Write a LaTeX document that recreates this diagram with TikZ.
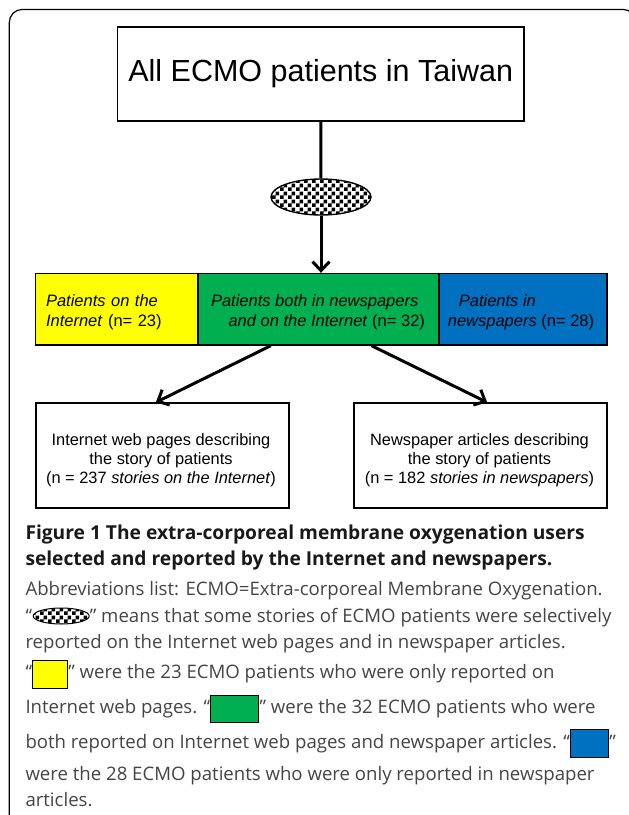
\documentclass[tikz,border=0pt]{standalone}
\usepackage{fontspec}
\setmainfont{Liberation Sans}
\newfontfamily\capfont{Open Sans}
\usetikzlibrary{arrows.meta,patterns,calc,shapes.geometric}
\definecolor{cyel}{HTML}{FFFF00}
\definecolor{cgrn}{HTML}{00B050}
\definecolor{cblu}{HTML}{0070C0}
\definecolor{captxt}{HTML}{444444}
\pgfdeclarepatternformonly{mychecker}{\pgfpointorigin}{\pgfqpoint{8pt}{8pt}}{\pgfqpoint{8pt}{8pt}}{%
  \pgfpathrectangle{\pgfpointorigin}{\pgfqpoint{4pt}{4pt}}%
  \pgfpathrectangle{\pgfqpoint{4pt}{4pt}}{\pgfqpoint{4pt}{4pt}}%
  \pgfusepath{fill}}
\begin{document}
\begin{tikzpicture}[x=1pt,y=-1pt,
  box/.style={draw, line width=1.4pt, inner sep=0pt},
  boxtext/.style={inner sep=0pt, align=center, font=\fontsize{16.4}{19.2}\selectfont},
  cell/.style={draw, line width=1.4pt, minimum height=71.5pt, inner sep=0pt},
  celltext/.style={inner sep=0pt, font=\fontsize{16.5}{19.5}\selectfont, align=left},
  flow/.style={line width=3pt, -{Straight Barb[length=9pt,width=17pt]}},
  captext/.style={anchor=base west, inner sep=0pt, font=\capfont\fontsize{18.6}{22}\selectfont, text=captxt},
  captextb/.style={anchor=base west, inner sep=0pt, font=\capfont\bfseries\fontsize{19.2}{22}\selectfont, text=black!90},
  swatch/.style={draw, line width=1pt, inner sep=0pt, anchor=west},
  checker/.style={ellipse, draw, pattern=mychecker, inner sep=0pt}
]
\useasboundingbox (0,0) rectangle (629,815);
\clip (0,0) rectangle (629,815);
\draw[line width=1.2pt, rounded corners=13pt] (9.3,830) -- (9.3,9.4) -- (636,9.4) -- (636,830);

\node[box, minimum width=406.5pt, minimum height=94pt, font=\fontsize{30.5}{36}\selectfont] (all) at (320.75,74) {All ECMO patients in Taiwan};
\node[checker, line width=1.4pt, minimum width=100pt, minimum height=36pt] (sel) at (321,197) {};

\node[cell, fill=cyel, minimum width=162.5pt] (yel) at (116.75,309.25) {};
\node[cell, fill=cgrn, minimum width=241pt] (grn) at (318.5,309.25) {};
\node[cell, fill=cblu, minimum width=168pt] (blu) at (523,309.25) {};
\node[celltext, text width=141.5pt] (yelt) at ($(yel.center)+(0,3)$)
  {\textit{Patients on the}\\\textit{Internet} (n= 23)};
\node[celltext] (grnt) at ($(grn.center)+(-0.5,3)$)
  {\textit{Patients both in newspapers}\\\hspace*{17.5pt}\textit{and on the Internet} (n= 32)};
\node[celltext] (blut) at ($(blu.center)+(-2,3)$)
  {\hspace*{11pt}\textit{Patients in}\\\textit{newspapers} (n= 28)};

\node[box, minimum width=253pt, minimum height=105pt] (web) at (162.5,455.5) {};
\node[box, minimum width=253pt, minimum height=105pt] (news) at (480.5,455.5) {};
\node[boxtext] (webt) at ($(web.center)+(-1.5,5)$)
  {Internet web pages describing\\the story of patients\\(n = 237 \textit{stories on the Internet})};
\node[boxtext] (newst) at ($(news.center)+(-1,5)$)
  {Newspaper articles describing\\the story of patients\\(n = 182 \textit{stories in newspapers})};

\draw[line width=3pt] (all) -- (sel);
\draw[flow] (sel.south) -- (sel.south |- grn.north);
\draw[flow] ($(grn.south west)!0.303!(grn.south east)$) -- ($(web.north west)!0.474!(web.north east)$);
\draw[flow] ($(grn.south west)!0.719!(grn.south east)$) -- ($(news.north west)!0.526!(news.north east)$);

\node[captextb] (c1) at (25.3,539) {Figure 1 The extra-corporeal membrane oxygenation users};
\node[captextb] (c2) at (25.3,565) {selected and reported by the Internet and newspapers.};
\node[captext] (c3) at (25.3,595) {Abbreviations list: ECMO=Extra-corporeal Membrane Oxygenation.};
\node[captext] (c4a) at (25.3,622) {“};
\node[checker, line width=1pt, minimum width=56pt, minimum height=16pt, anchor=west] (c4e) at ($(c4a.base east)+(0.5,-6)$) {};
\node[captext] (c4b) at (c4e.east |- c4a.base) {” means that some stories of ECMO patients were selectively};
\node[captext] (c5) at (25.3,648) {reported on the Internet web pages and in newspaper articles.};
\node[captext] (c6a) at (25.3,678) {“};
\node[swatch, fill=cyel, minimum width=35pt, minimum height=28pt] (c6s) at ($(c6a.base east)+(0,-4)$) {};
\node[captext] (c6b) at (c6s.east |- c6a.base) {” were the 23 ECMO patients who were only reported on};
\node[captext] (c7a) at (25.3,713) {Internet web pages. “};
\node[swatch, fill=cgrn, minimum width=48pt, minimum height=27pt] (c7s) at ($(c7a.base east)+(0,-4.5)$) {};
\node[captext] (c7b) at (c7s.east |- c7a.base) {” were the 32 ECMO patients who were};
\node[captext] (c8a) at (25.3,748) {both reported on Internet web pages and newspaper articles. “};
\node[swatch, fill=cblu, minimum width=38pt, minimum height=28pt] (c8s) at ($(c8a.base east)+(0,-5)$) {};
\node[captext] (c8b) at (c8s.east |- c8a.base) {”};
\node[captext] (c9) at (25.3,780) {were the 28 ECMO patients who were only reported in newspaper};
\node[captext] (c10) at (25.3,806) {articles.};
\end{tikzpicture}
\end{document}
